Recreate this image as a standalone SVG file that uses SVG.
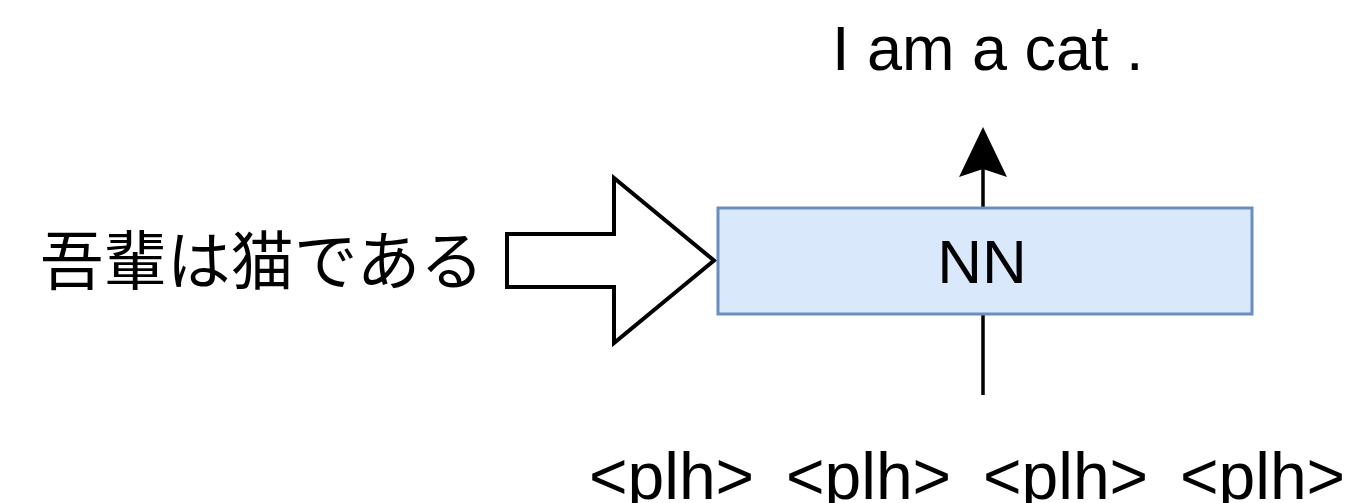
<svg xmlns="http://www.w3.org/2000/svg" width="1347" height="503" viewBox="0 0 1347 503">
  <style>
    .lbl { font-family: "Liberation Sans", Arial, "Noto Sans CJK JP", sans-serif; fill: #000; }
    .jp { font-family: "Noto Sans CJK JP", "Liberation Sans", sans-serif; fill: #000; }
    .edge { stroke: #000; stroke-width: 3.5; fill: none; }
  </style>
  <defs>
    <marker id="head" markerUnits="userSpaceOnUse" viewBox="0 0 50 50" refX="8" refY="25" markerWidth="50" markerHeight="50" orient="auto">
      <path d="M0,1 L50,25 L0,49 L8,25 Z" fill="#000"/>
    </marker>
  </defs>

  <rect width="1347" height="503" fill="#ffffff"/>

  <!-- connectors -->
  <g id="connectors">
    <line class="edge" x1="983" y1="395" x2="983" y2="169" marker-end="url(#head)"/>
  </g>

  <!-- input sentence -->
  <g id="source">
    <text class="jp" x="40" y="284" font-size="63.5">吾輩は猫である</text>
  </g>

  <!-- block arrow feeding the network -->
  <g id="feed">
    <polygon points="507,234 614,234 614,178 714,260.5 614,343 614,287 507,287" fill="#ffffff" stroke="#000" stroke-width="4" stroke-linejoin="miter"/>
  </g>

  <!-- network box -->
  <g id="nn">
    <rect x="718" y="208" width="534" height="106" fill="#dae8fc" stroke="#6c8ebf" stroke-width="3"/>
    <text class="lbl" x="982" y="283" font-size="62" text-anchor="middle">NN</text>
  </g>

  <!-- output sentence -->
  <g id="target">
    <text class="lbl" x="832" y="70" font-size="63">I am a cat .</text>
  </g>

  <!-- placeholder tokens -->
  <g id="placeholders">
    <text class="lbl" x="589" y="499" font-size="66">&lt;plh&gt;</text>
    <text class="lbl" x="786" y="499" font-size="66">&lt;plh&gt;</text>
    <text class="lbl" x="983" y="499" font-size="66">&lt;plh&gt;</text>
    <text class="lbl" x="1180" y="499" font-size="66">&lt;plh&gt;</text>
  </g>
</svg>
